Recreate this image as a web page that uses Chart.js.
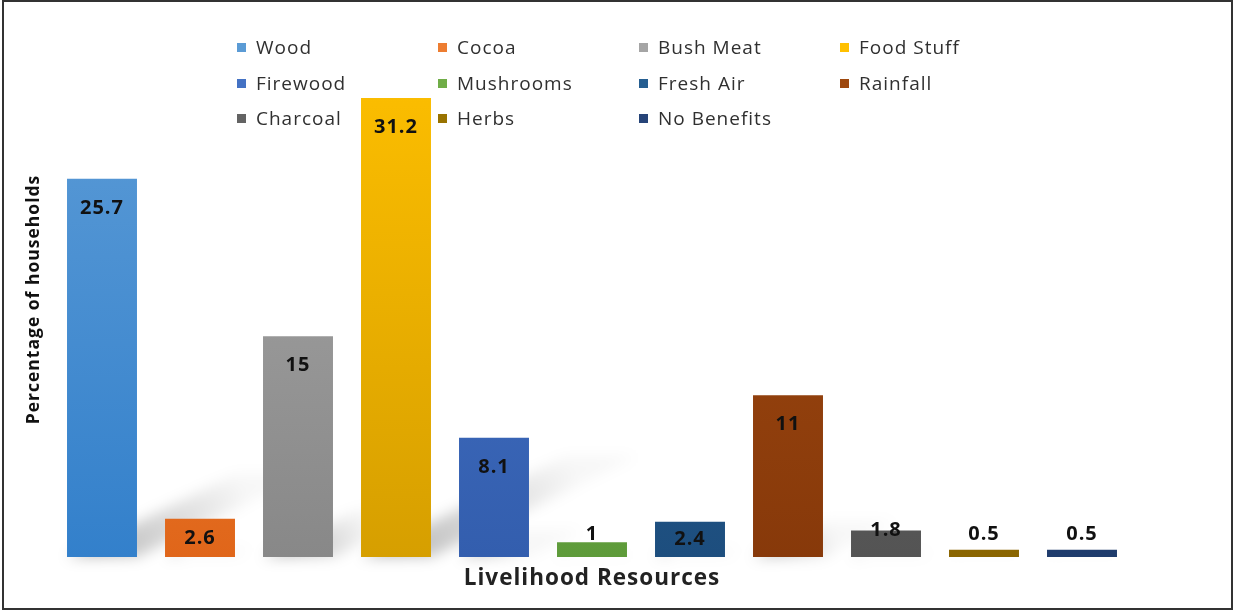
<!DOCTYPE html>
<html>
<head>
<meta charset="utf-8">
<script src="https://cdn.jsdelivr.net/npm/chart.js@4.4.1/dist/chart.umd.min.js"></script>
<style>
    body { margin: 0; background: #fff; font-family: 'Open Sans', sans-serif; }
    #frame { position: absolute; left: 2px; top: 0; width: 1231px; height: 610px; box-sizing: border-box; border: 2px solid #333; }
    #box { position: absolute; left: 4px; top: 2px; width: 1227px; height: 606px; }
    #legend { position: absolute; left: 0; top: 0; width: 1233px; height: 140px; pointer-events: none; }
    .item { position: absolute; font-size: 19px; letter-spacing: 1px; color: #303030; white-space: nowrap; line-height: 20px; }
    .item span { display: inline-block; width: 9px; height: 9px; margin-right: 10px; vertical-align: 2px; }
</style>
</head>
<body>
<div id="frame"></div>
<div id="box"><canvas id="chart" width="1227" height="606"></canvas></div>
<div id="legend"></div>
<script>
// Livelihood resources and share of households (%)
const categories = ['Wood', 'Cocoa', 'Bush Meat', 'Food Stuff', 'Firewood', 'Mushrooms',
    'Fresh Air', 'Rainfall', 'Charcoal', 'Herbs', 'No Benefits'];
const percentages = [25.7, 2.6, 15, 31.2, 8.1, 1, 2.4, 11, 1.8, 0.5, 0.5];

// bar colours (top of gradient / bottom of gradient)
const topColors = ['#5e9dd7', '#f08a3d', '#aaaaaa', '#ffc000', '#4876ca', '#74b14c',
    '#2a6399', '#a64d12', '#686868', '#9c7700', '#2b4b82'];
const bottomColors = ['#3380cb', '#e0661a', '#888888', '#d69f00', '#335eae', '#5e9b3a',
    '#1d4e7e', '#87390a', '#545454', '#8a6500', '#1f3c6c'];
const legendColors = ['#5b9bd5', '#ed7d31', '#a5a5a5', '#ffc000', '#4472c4', '#70ad47',
    '#255e91', '#9e480e', '#636363', '#997300', '#264478'];

// legend, 4 per row like the original
const legendEl = document.getElementById('legend');
categories.forEach((name, i) => {
    const div = document.createElement('div');
    div.className = 'item';
    div.style.left = (237 + (i % 4) * 201) + 'px';
    div.style.top = (37 + Math.floor(i / 4) * 35.5) + 'px';
    div.innerHTML = '<span style="background:' + legendColors[i] + '"></span>' + name;
    legendEl.appendChild(div);
});

function barGradient(context) {
    const chart = context.chart;
    const area = chart.chartArea;
    if (!area) return topColors[context.dataIndex];
    const el = context.element;
    const top = el && el.y !== undefined ? el.y : area.top;
    const g = chart.ctx.createLinearGradient(0, top, 0, area.bottom);
    g.addColorStop(0, topColors[context.dataIndex]);
    g.addColorStop(1, bottomColors[context.dataIndex]);
    return g;
}

// the original text is a bit wider than the installed fonts
const spacing = {
    id: 'spacing',
    beforeDraw(chart) { chart.ctx.letterSpacing = '1px'; }
};

// soft perspective shadow behind each bar
const shadowPlugin = {
    id: 'shadows',
    beforeDatasetsDraw(chart) {
        const ctx = chart.ctx;
        const meta = chart.getDatasetMeta(0);
        ctx.save();
        ctx.filter = 'blur(7px)';
        meta.data.forEach(bar => {
            const h = bar.base - bar.y;
            const x0 = bar.x - bar.width / 2;
            const x1 = bar.x + bar.width / 2;
            const dx = h * 0.45, dy = h * 0.22;
            const g = ctx.createLinearGradient(x0, bar.base, x0 + dx, bar.base - dy);
            g.addColorStop(0, 'rgba(0,0,0,0.3)');
            g.addColorStop(1, 'rgba(0,0,0,0.03)');
            ctx.fillStyle = g;
            ctx.beginPath();
            ctx.moveTo(x0, bar.base);
            ctx.lineTo(x1, bar.base);
            ctx.lineTo(x1 + dx, bar.base - dy);
            ctx.lineTo(x0 + dx, bar.base - dy);
            ctx.closePath();
            ctx.fill();
        });
        ctx.restore();
    }
};

// value labels at the inside end of each bar
const valueLabels = {
    id: 'valueLabels',
    afterDatasetsDraw(chart) {
        const ctx = chart.ctx;
        const meta = chart.getDatasetMeta(0);
        ctx.save();
        ctx.letterSpacing = '1px';
        ctx.font = 'bold 20px "Open Sans", sans-serif';
        ctx.fillStyle = '#111';
        ctx.textAlign = 'center';
        ctx.textBaseline = 'middle';
        meta.data.forEach((bar, i) => {
            const h = bar.base - bar.y;
            let y;
            if (h >= 58) y = bar.y + 29;
            else if (h >= 30) y = (bar.y + bar.base) / 2;
            else y = Math.min(bar.y, bar.base - 23);
            ctx.fillText(String(percentages[i]), bar.x, y);
        });
        ctx.restore();
    }
};

const ctx = document.getElementById('chart').getContext('2d');
new Chart(ctx, {
    type: 'bar',
    data: {
        labels: categories,
        datasets: [{
            data: percentages,
            backgroundColor: barGradient,
            borderWidth: 0,
            barPercentage: 0.714,
            categoryPercentage: 1
        }]
    },
    options: {
        responsive: false,
        devicePixelRatio: 1,
        animation: false,
        layout: { padding: { left: 10, top: 40, right: 100, bottom: 10 } },
        scales: {
            x: {
                ticks: { display: false },
                grid: { display: false },
                border: { display: false },
                title: {
                    display: true,
                    text: 'Livelihood Resources',
                    color: '#222',
                    font: { family: 'Open Sans', size: 22.5, weight: 'bold' },
                    padding: { top: 0, bottom: 6 }
                },
                afterFit: s => { s.height = 41; }
            },
            y: {
                min: 0,
                max: 35,
                ticks: { display: false },
                grid: { display: false },
                border: { display: false },
                title: {
                    display: true,
                    text: 'Percentage of households',
                    color: '#111',
                    font: { family: 'Open Sans', size: 17.5, weight: 'bold' },
                    padding: { top: 10, bottom: 0 }
                },
                afterFit: s => { s.width = 39; }
            }
        },
        plugins: {
            legend: { display: false },
            tooltip: { enabled: false }
        }
    },
    plugins: [spacing, shadowPlugin, valueLabels]
});
</script>
</body>
</html>
